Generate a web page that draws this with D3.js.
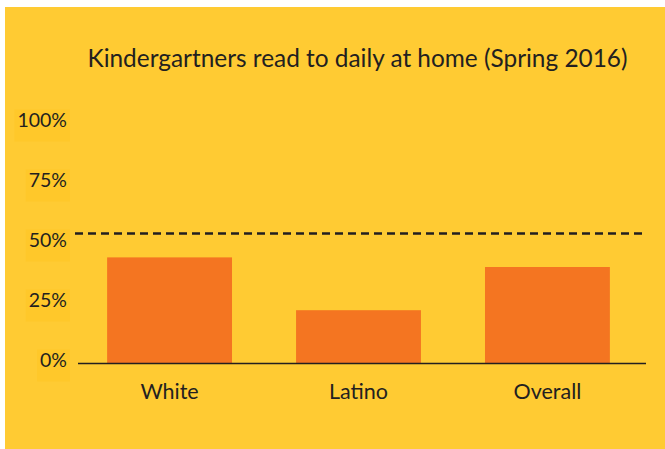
<!DOCTYPE html>
<html>
<head>
<meta charset="utf-8">
<script src="https://cdn.jsdelivr.net/npm/d3@7"></script>
<style>
  html, body { margin: 0; padding: 0; background: #ffffff; }
  svg { display: block; }
  text { font-family: Lato, "Open Sans", sans-serif; fill: #231f20; }
</style>
</head>
<body>
<svg id="chart" width="665" height="449"></svg>
<script>
const title = "Kindergartners read to daily at home (Spring 2016)";
const categories = ["White", "Latino", "Overall"];
const values = [44, 22, 40];
const referenceValue = 54;
const tickValues = [0, 25, 50, 75, 100];
const tickLabels = ["0%", "25%", "50%", "75%", "100%"];

const W = 665, H = 449;
const svg = d3.select("#chart");

svg.append("rect")
  .attr("x", 5).attr("y", 7)
  .attr("width", W - 5).attr("height", H - 7)
  .attr("fill", "#ffcb33");

const y = d3.scaleLinear().domain([0, 100]).range([363, 123]);
const x = d3.scaleBand().domain(categories).range([75, 642]).paddingInner(0.339).paddingOuter(0.17);

// title
svg.append("text")
  .attr("x", 357.5).attr("y", 66.7)
  .attr("text-anchor", "middle")
  .attr("font-size", 24.4)
  .text(title);

// y tick labels with boxes
const tg = svg.append("g");
tickValues.forEach((v, i) => {
  const cy = y(v) - 3.5;
  const g = tg.append("g");
  const box = g.append("rect").attr("fill", "#ffc82a");
  const t = g.append("text")
    .attr("x", 67).attr("y", cy)
    .attr("text-anchor", "end")
    .attr("dominant-baseline", "central")
    .attr("font-size", 19.5)
    .text(tickLabels[i]);
  const bb = t.node().getBBox();
  box.attr("x", bb.x - 3).attr("y", cy - 10)
     .attr("width", bb.width + 6).attr("height", 32);
});

// bars
svg.append("g").selectAll("rect")
  .data(categories)
  .join("rect")
  .attr("x", d => x(d))
  .attr("width", x.bandwidth())
  .attr("y", (d, i) => y(values[i]))
  .attr("height", (d, i) => y(0) - y(values[i]))
  .attr("fill", "#f47521");

// baseline axis
const xAxis = d3.axisBottom(x).tickSize(0).tickPadding(14);
const ax = svg.append("g")
  .attr("transform", `translate(0,${y(0)})`)
  .call(xAxis);
ax.select(".domain").attr("d", "M78,0.5H646").attr("stroke", "#231f20").attr("stroke-width", 1.5);
ax.selectAll(".tick text")
  .attr("font-size", 21.5)
  .attr("font-family", "Lato, 'Open Sans', sans-serif")
  .attr("fill", "#231f20")
  .attr("dy", null)
  .attr("y", 35.5);

// dashed reference line
svg.append("line")
  .attr("x1", 75).attr("x2", 645)
  .attr("y1", y(referenceValue)).attr("y2", y(referenceValue))
  .attr("stroke", "#231f20")
  .attr("stroke-width", 2.5)
  .attr("stroke-dasharray", "8,5");
</script>
</body>
</html>
